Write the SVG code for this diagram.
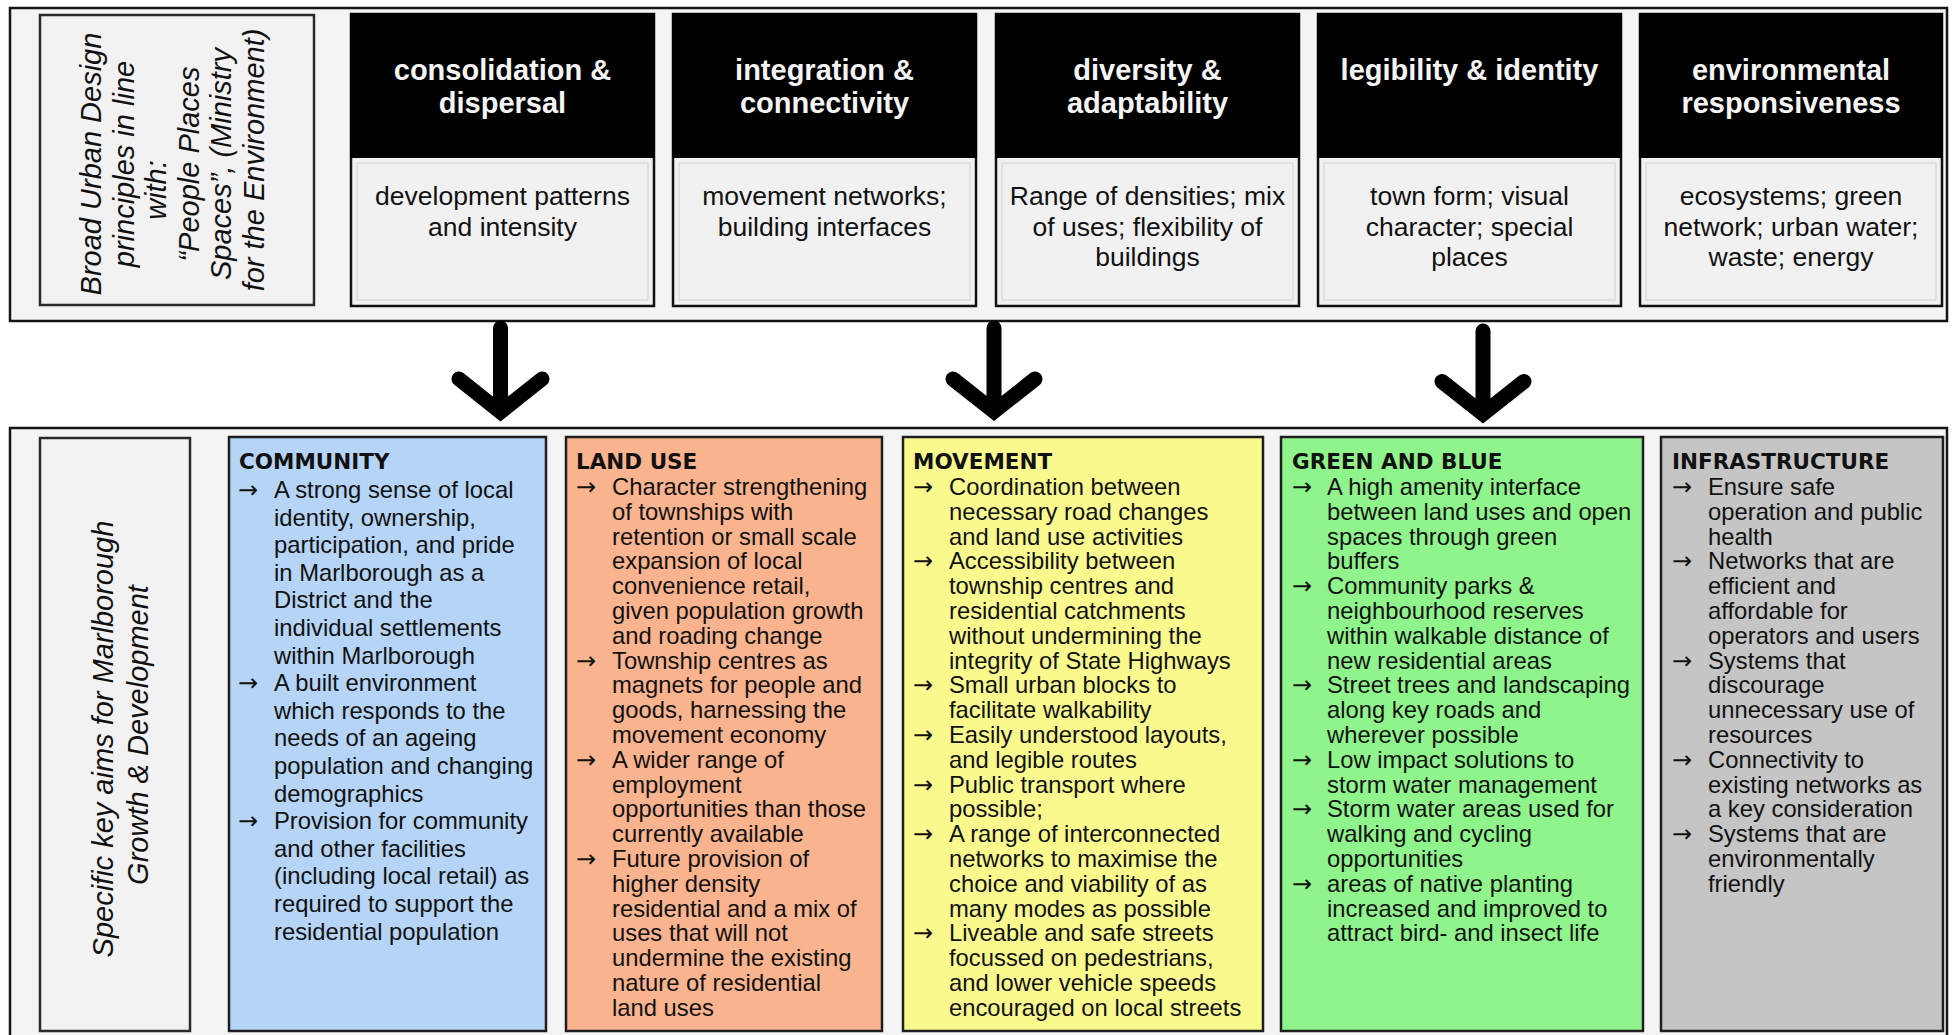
<svg xmlns="http://www.w3.org/2000/svg" width="1952" height="1035" viewBox="0 0 1952 1035">
  <style>
    .frame { fill: #f4f4f4; stroke: #151515; stroke-width: 2.5; }
    .label-box { fill: #f2f2f2; stroke: #2a2a2a; stroke-width: 2.5; }
    .label { font-family: "Liberation Sans", Arial, sans-serif; font-style: italic; font-size: 29px; fill: #111; }
    .head { fill: #000; stroke: #000; stroke-width: 2; }
    .body { fill: #f1f1f1; stroke: #111; stroke-width: 2.5; }
    .inner { fill: none; stroke: #dcdcdc; stroke-width: 1.5; }
    .head-text { font-family: "Liberation Sans", Arial, sans-serif; font-weight: bold; font-size: 29px; fill: #f5f5f5; text-anchor: middle; }
    .body-text { font-family: "Liberation Sans", Arial, sans-serif; font-size: 26.5px; fill: #111; text-anchor: middle; }
    .aim { stroke: #1e1e1e; stroke-width: 2.5; }
    .aim-title { font-family: "DejaVu Sans", Verdana, sans-serif; font-weight: bold; font-size: 21.5px; fill: #111; }
    .aim-text { font-family: "Liberation Sans", Arial, sans-serif; font-size: 23.8px; fill: #111; }
    .bullet { font-family: "DejaVu Sans", sans-serif; font-size: 24px; fill: #111; }
    .arrow { fill: none; stroke: #000; stroke-width: 15; stroke-linecap: round; stroke-linejoin: miter; stroke-miterlimit: 4; }
  </style>

  <rect width="1952" height="1035" fill="#ffffff"/>

  <!-- upper band: broad urban design principles -->
  <rect id="principles-frame" class="frame" x="10" y="8" width="1937" height="313"/>

  <g id="principles-label">
    <rect class="label-box" x="40" y="15" width="274" height="290"/>
    <text class="label" transform="rotate(-90)" text-anchor="middle">
      <tspan x="-160" y="101">Broad Urban Design</tspan>
      <tspan x="-160" y="133.5">principles in line</tspan>
      <tspan x="-186" y="166">with:</tspan>
      <tspan x="-160" y="198.5">“People Places</tspan>
      <tspan x="-160" y="231">Spaces”, (Ministry</tspan>
      <tspan x="-160" y="263.5">for the Environment)</tspan>
    </text>
  </g>

  <g id="consolidation">
    <rect class="body" x="351" y="14" width="303" height="292"/>
    <rect class="inner" x="357" y="163" width="291" height="137"/>
    <rect class="head" x="351" y="14" width="303" height="143"/>
    <text class="head-text"><tspan x="502.5" y="80">consolidation &amp;</tspan><tspan x="502.5" y="113">dispersal</tspan></text>
    <text class="body-text"><tspan x="502.5" y="205">development patterns</tspan><tspan x="502.5" y="235.5">and intensity</tspan></text>
  </g>

  <g id="integration">
    <rect class="body" x="673" y="14" width="303" height="292"/>
    <rect class="inner" x="679" y="163" width="291" height="137"/>
    <rect class="head" x="673" y="14" width="303" height="143"/>
    <text class="head-text"><tspan x="824.5" y="80">integration &amp;</tspan><tspan x="824.5" y="113">connectivity</tspan></text>
    <text class="body-text"><tspan x="824.5" y="205">movement networks;</tspan><tspan x="824.5" y="235.5">building interfaces</tspan></text>
  </g>

  <g id="diversity">
    <rect class="body" x="996" y="14" width="303" height="292"/>
    <rect class="inner" x="1002" y="163" width="291" height="137"/>
    <rect class="head" x="996" y="14" width="303" height="143"/>
    <text class="head-text"><tspan x="1147.5" y="80">diversity &amp;</tspan><tspan x="1147.5" y="113">adaptability</tspan></text>
    <text class="body-text"><tspan x="1147.5" y="205">Range of densities; mix</tspan><tspan x="1147.5" y="235.5">of uses; flexibility of</tspan><tspan x="1147.5" y="266">buildings</tspan></text>
  </g>

  <g id="legibility">
    <rect class="body" x="1318" y="14" width="303" height="292"/>
    <rect class="inner" x="1324" y="163" width="291" height="137"/>
    <rect class="head" x="1318" y="14" width="303" height="143"/>
    <text class="head-text"><tspan x="1469.5" y="80">legibility &amp; identity</tspan></text>
    <text class="body-text"><tspan x="1469.5" y="205">town form; visual</tspan><tspan x="1469.5" y="235.5">character; special</tspan><tspan x="1469.5" y="266">places</tspan></text>
  </g>

  <g id="environmental">
    <rect class="body" x="1640" y="14" width="302" height="292"/>
    <rect class="inner" x="1646" y="163" width="290" height="137"/>
    <rect class="head" x="1640" y="14" width="302" height="143"/>
    <text class="head-text"><tspan x="1791" y="80">environmental</tspan><tspan x="1791" y="113">responsiveness</tspan></text>
    <text class="body-text"><tspan x="1791" y="205">ecosystems; green</tspan><tspan x="1791" y="235.5">network; urban water;</tspan><tspan x="1791" y="266">waste; energy</tspan></text>
  </g>

  <!-- lower band: specific key aims -->
  <rect id="aims-frame" class="frame" x="10" y="428" width="1937" height="620"/>

  <g id="connectors">
    <path class="arrow" d="M500.5 328 V410 M459 379 L500.5 412 L542 379"/>
    <path class="arrow" d="M994 328 V410 M953 379 L994 411.5 L1035 379"/>
    <path class="arrow" d="M1483 331 V412 M1442 381.5 L1483 414 L1524 381.5"/>
  </g>

  <g id="aims-label">
    <rect class="label-box" x="40" y="438" width="150" height="593"/>
    <text class="label" transform="rotate(-90)" text-anchor="middle">
      <tspan x="-735" y="113">Specific key aims for Marlborough</tspan>
      <tspan x="-735" y="148">Growth &amp; Development</tspan>
    </text>
  </g>

  <g id="community">
    <rect class="aim" fill="#b5d4f6" x="229" y="437" width="317" height="594"/>
    <text class="aim-title" x="239" y="469">COMMUNITY</text>
    <g class="bullet"><text x="238" y="498">→</text><text x="238" y="691.2">→</text><text x="238" y="829.2">→</text></g>
    <text class="aim-text">
      <tspan x="274" y="498">A strong sense of local</tspan>
      <tspan x="274" dy="27.6">identity, ownership,</tspan>
      <tspan x="274" dy="27.6">participation, and pride</tspan>
      <tspan x="274" dy="27.6">in Marlborough as a</tspan>
      <tspan x="274" dy="27.6">District and the</tspan>
      <tspan x="274" dy="27.6">individual settlements</tspan>
      <tspan x="274" dy="27.6">within Marlborough</tspan>
      <tspan x="274" dy="27.6">A built environment</tspan>
      <tspan x="274" dy="27.6">which responds to the</tspan>
      <tspan x="274" dy="27.6">needs of an ageing</tspan>
      <tspan x="274" dy="27.6">population and changing</tspan>
      <tspan x="274" dy="27.6">demographics</tspan>
      <tspan x="274" dy="27.6">Provision for community</tspan>
      <tspan x="274" dy="27.6">and other facilities</tspan>
      <tspan x="274" dy="27.6">(including local retail) as</tspan>
      <tspan x="274" dy="27.6">required to support the</tspan>
      <tspan x="274" dy="27.6">residential population</tspan>
    </text>
  </g>

  <g id="land-use">
    <rect class="aim" fill="#f9b38e" x="566" y="437" width="316" height="594"/>
    <text class="aim-title" x="576" y="469">LAND USE</text>
    <g class="bullet"><text x="576" y="495">→</text><text x="576" y="668.6">→</text><text x="576" y="767.8">→</text><text x="576" y="867">→</text></g>
    <text class="aim-text">
      <tspan x="612" y="495">Character strengthening</tspan>
      <tspan x="612" dy="24.8">of townships with</tspan>
      <tspan x="612" dy="24.8">retention or small scale</tspan>
      <tspan x="612" dy="24.8">expansion of local</tspan>
      <tspan x="612" dy="24.8">convenience retail,</tspan>
      <tspan x="612" dy="24.8">given population growth</tspan>
      <tspan x="612" dy="24.8">and roading change</tspan>
      <tspan x="612" dy="24.8">Township centres as</tspan>
      <tspan x="612" dy="24.8">magnets for people and</tspan>
      <tspan x="612" dy="24.8">goods, harnessing the</tspan>
      <tspan x="612" dy="24.8">movement economy</tspan>
      <tspan x="612" dy="24.8">A wider range of</tspan>
      <tspan x="612" dy="24.8">employment</tspan>
      <tspan x="612" dy="24.8">opportunities than those</tspan>
      <tspan x="612" dy="24.8">currently available</tspan>
      <tspan x="612" dy="24.8">Future provision of</tspan>
      <tspan x="612" dy="24.8">higher density</tspan>
      <tspan x="612" dy="24.8">residential and a mix of</tspan>
      <tspan x="612" dy="24.8">uses that will not</tspan>
      <tspan x="612" dy="24.8">undermine the existing</tspan>
      <tspan x="612" dy="24.8">nature of residential</tspan>
      <tspan x="612" dy="24.8">land uses</tspan>
    </text>
  </g>

  <g id="movement">
    <rect class="aim" fill="#f9f98e" x="903" y="437" width="360" height="594"/>
    <text class="aim-title" x="913" y="469">MOVEMENT</text>
    <g class="bullet"><text x="913" y="495">→</text><text x="913" y="569.4">→</text><text x="913" y="693.4">→</text><text x="913" y="743">→</text><text x="913" y="792.6">→</text><text x="913" y="842.2">→</text><text x="913" y="941.4">→</text></g>
    <text class="aim-text">
      <tspan x="949" y="495">Coordination between</tspan>
      <tspan x="949" dy="24.8">necessary road changes</tspan>
      <tspan x="949" dy="24.8">and land use activities</tspan>
      <tspan x="949" dy="24.8">Accessibility between</tspan>
      <tspan x="949" dy="24.8">township centres and</tspan>
      <tspan x="949" dy="24.8">residential catchments</tspan>
      <tspan x="949" dy="24.8">without undermining the</tspan>
      <tspan x="949" dy="24.8">integrity of State Highways</tspan>
      <tspan x="949" dy="24.8">Small urban blocks to</tspan>
      <tspan x="949" dy="24.8">facilitate walkability</tspan>
      <tspan x="949" dy="24.8">Easily understood layouts,</tspan>
      <tspan x="949" dy="24.8">and legible routes</tspan>
      <tspan x="949" dy="24.8">Public transport where</tspan>
      <tspan x="949" dy="24.8">possible;</tspan>
      <tspan x="949" dy="24.8">A range of interconnected</tspan>
      <tspan x="949" dy="24.8">networks to maximise the</tspan>
      <tspan x="949" dy="24.8">choice and viability of as</tspan>
      <tspan x="949" dy="24.8">many modes as possible</tspan>
      <tspan x="949" dy="24.8">Liveable and safe streets</tspan>
      <tspan x="949" dy="24.8">focussed on pedestrians,</tspan>
      <tspan x="949" dy="24.8">and lower vehicle speeds</tspan>
      <tspan x="949" dy="24.8">encouraged on local streets</tspan>
    </text>
  </g>

  <g id="green-blue">
    <rect class="aim" fill="#8ff48b" x="1281" y="437" width="362" height="594"/>
    <text class="aim-title" x="1292" y="469">GREEN AND BLUE</text>
    <g class="bullet"><text x="1292" y="495">→</text><text x="1292" y="594.2">→</text><text x="1292" y="693.4">→</text><text x="1292" y="767.8">→</text><text x="1292" y="817.4">→</text><text x="1292" y="891.8">→</text></g>
    <text class="aim-text">
      <tspan x="1327" y="495">A high amenity interface</tspan>
      <tspan x="1327" dy="24.8">between land uses and open</tspan>
      <tspan x="1327" dy="24.8">spaces through green</tspan>
      <tspan x="1327" dy="24.8">buffers</tspan>
      <tspan x="1327" dy="24.8">Community parks &amp;</tspan>
      <tspan x="1327" dy="24.8">neighbourhood reserves</tspan>
      <tspan x="1327" dy="24.8">within walkable distance of</tspan>
      <tspan x="1327" dy="24.8">new residential areas</tspan>
      <tspan x="1327" dy="24.8">Street trees and landscaping</tspan>
      <tspan x="1327" dy="24.8">along key roads and</tspan>
      <tspan x="1327" dy="24.8">wherever possible</tspan>
      <tspan x="1327" dy="24.8">Low impact solutions to</tspan>
      <tspan x="1327" dy="24.8">storm water management</tspan>
      <tspan x="1327" dy="24.8">Storm water areas used for</tspan>
      <tspan x="1327" dy="24.8">walking and cycling</tspan>
      <tspan x="1327" dy="24.8">opportunities</tspan>
      <tspan x="1327" dy="24.8">areas of native planting</tspan>
      <tspan x="1327" dy="24.8">increased and improved to</tspan>
      <tspan x="1327" dy="24.8">attract bird- and insect life</tspan>
    </text>
  </g>

  <g id="infrastructure">
    <rect class="aim" fill="#c5c5c5" x="1661" y="437" width="282" height="594"/>
    <text class="aim-title" x="1672" y="469">INFRASTRUCTURE</text>
    <g class="bullet"><text x="1672" y="495">→</text><text x="1672" y="569.4">→</text><text x="1672" y="668.6">→</text><text x="1672" y="767.8">→</text><text x="1672" y="842.2">→</text></g>
    <text class="aim-text">
      <tspan x="1708" y="495">Ensure safe</tspan>
      <tspan x="1708" dy="24.8">operation and public</tspan>
      <tspan x="1708" dy="24.8">health</tspan>
      <tspan x="1708" dy="24.8">Networks that are</tspan>
      <tspan x="1708" dy="24.8">efficient and</tspan>
      <tspan x="1708" dy="24.8">affordable for</tspan>
      <tspan x="1708" dy="24.8">operators and users</tspan>
      <tspan x="1708" dy="24.8">Systems that</tspan>
      <tspan x="1708" dy="24.8">discourage</tspan>
      <tspan x="1708" dy="24.8">unnecessary use of</tspan>
      <tspan x="1708" dy="24.8">resources</tspan>
      <tspan x="1708" dy="24.8">Connectivity to</tspan>
      <tspan x="1708" dy="24.8">existing networks as</tspan>
      <tspan x="1708" dy="24.8">a key consideration</tspan>
      <tspan x="1708" dy="24.8">Systems that are</tspan>
      <tspan x="1708" dy="24.8">environmentally</tspan>
      <tspan x="1708" dy="24.8">friendly</tspan>
    </text>
  </g>
</svg>
